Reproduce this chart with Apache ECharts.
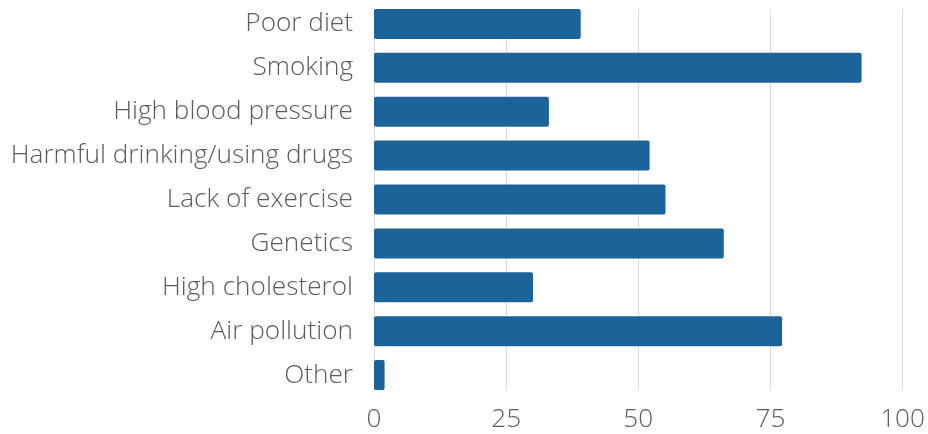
<!DOCTYPE html>
<html>
<head>
<meta charset="utf-8">
<script src="https://cdn.jsdelivr.net/npm/echarts@6/dist/echarts.min.js"></script>
<style>
  html, body { margin: 0; padding: 0; background: #fff; }
  #chart { width: 928px; height: 434px; }
</style>
</head>
<body>
<div id="chart"></div>
<script>
// Categories, listed top to bottom
const categories = [
  'Poor diet',
  'Smoking',
  'High blood pressure',
  'Harmful drinking/using drugs',
  'Lack of exercise',
  'Genetics',
  'High cholesterol',
  'Air pollution',
  'Other'
];
const values = [39, 92, 33, 52, 55, 66, 30, 77, 2];
const xTicks = [0, 25, 50, 75, 100];

const FONT = '"Open Sans", "Noto Sans", sans-serif';
const TEXT = '#5b5b5b';
const BAR = '#1c6399';
const GRID = '#dcdcdc';

const chart = echarts.init(document.getElementById('chart'), null, { renderer: 'canvas' });

chart.setOption({
  animation: false,
  grid: [
    // bars + category labels
    { left: 374, right: 24, top: 2, bottom: 37, containLabel: false },
    // vertical gridlines + value labels, spanning only the bar block
    { left: 374, right: 24, top: 9, bottom: 44, containLabel: false }
  ],
  xAxis: [
    {
      gridIndex: 0, type: 'value', min: xTicks[0], max: xTicks[xTicks.length - 1], interval: 25,
      axisLine: { show: false }, axisTick: { show: false },
      axisLabel: { show: false }, splitLine: { show: false }
    },
    {
      gridIndex: 1, type: 'value', min: xTicks[0], max: xTicks[xTicks.length - 1], interval: 25,
      axisLine: { show: false }, axisTick: { show: false },
      axisLabel: {
        color: TEXT, fontFamily: FONT, fontWeight: 300, fontSize: 26.2, margin: 17,
        formatter: v => xTicks.includes(v) ? String(v) : ''
      },
      splitLine: { show: true, lineStyle: { color: GRID, width: 1 } }
    }
  ],
  yAxis: [
    {
      gridIndex: 0, type: 'category', data: categories, inverse: true,
      axisLine: { show: false }, axisTick: { show: false }, splitLine: { show: false },
      axisLabel: {
        color: TEXT, fontFamily: FONT, fontWeight: 300, fontSize: 26.2, margin: 21,
        padding: [4, 0, 0, 0]
      }
    },
    {
      gridIndex: 1, type: 'category', data: categories, inverse: true, show: false
    }
  ],
  series: [
    {
      type: 'bar',
      xAxisIndex: 0, yAxisIndex: 0,
      data: values,
      barWidth: 30,
      itemStyle: { color: BAR, borderRadius: 2 },
      z: 3
    }
  ]
});
</script>
</body>
</html>
